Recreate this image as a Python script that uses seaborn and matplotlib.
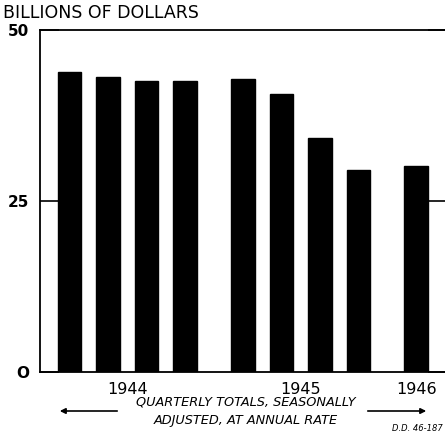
import matplotlib
matplotlib.use("Agg")
import matplotlib.pyplot as plt
import seaborn as sns
import pandas as pd

# dados (bilhoes de dolares, taxa anual)
anos = [1944, 1944, 1944, 1944, 1945, 1945, 1945, 1945, 1946]
trimestres = ["I", "II", "III", "IV", "I", "II", "III", "IV", "I"]
valores = [43.8, 43.2, 42.6, 42.5, 42.8, 40.6, 34.2, 29.6, 30.1]
rotulos_anos = ["1944", "1945", "1946"]

df = pd.DataFrame({"Ano": anos, "Trimestre": trimestres, "Valor": valores})
# meio espaco entre os anos
df["pos"] = [i + 0.5 * (a - 1944) for i, a in enumerate(df["Ano"])]
pos_anos = [df[df["Ano"] == int(a)]["pos"].mean() for a in rotulos_anos]

sns.set_style("white")
plt.rcParams["font.family"] = ["DejaVu Sans"]

fig = plt.figure(figsize=(4.45, 4.36), dpi=100)
ax = fig.add_axes([40 / 445, 64 / 436, 407 / 445, 342 / 436])

sns.barplot(data=df, x="pos", y="Valor", native_scale=True, color="black",
            width=0.61, saturation=1, ax=ax)
for p in ax.patches:
    p.set_edgecolor("black")

ax.set_xlim(-0.765, 9.8)
ax.set_ylim(0, 50)
ax.set_yticks([0, 25, 50])
ax.set_yticklabels(["O", "25", "50"], fontsize=11, fontweight="bold")
ax.tick_params(axis="y", direction="in", length=14, width=1.2, pad=8,
               right=True, left=True, colors="black")
ax.set_xticks(pos_anos)
ax.set_xticklabels(rotulos_anos, fontsize=11.5, fontweight="medium")
ax.tick_params(axis="x", length=0, pad=7, labelcolor="black")
ax.set_xlabel("")
ax.set_ylabel("")
for s in ax.spines.values():
    s.set_color("black")
    s.set_linewidth(1.3)

fig.text(3 / 445, 1 - 13 / 436, "BILLIONS OF DOLLARS", fontsize=12.5,
         va="center", ha="left", color="black")
fig.text(246 / 445, 1 - 402 / 436, "QUARTERLY TOTALS, SEASONALLY",
         fontsize=9.3, style="italic", ha="center", va="center", color="black")
fig.text(246 / 445, 1 - 420 / 436, "ADJUSTED, AT ANNUAL RATE",
         fontsize=9.3, style="italic", ha="center", va="center", color="black")
fig.text(443 / 445, 1 - 428 / 436, "D.D. 46-187", fontsize=6,
         style="italic", ha="right", va="center", color="black")
fig.patches.append(plt.matplotlib.patches.FancyArrowPatch(
    (120 / 445, 1 - 411 / 436), (57 / 445, 1 - 411 / 436),
    transform=fig.transFigure, arrowstyle="-|>", mutation_scale=8,
    color="black", lw=1.2))
fig.patches.append(plt.matplotlib.patches.FancyArrowPatch(
    (365 / 445, 1 - 411 / 436), (429 / 445, 1 - 411 / 436),
    transform=fig.transFigure, arrowstyle="-|>", mutation_scale=8,
    color="black", lw=1.2))

fig.savefig("out.png", dpi=100)
